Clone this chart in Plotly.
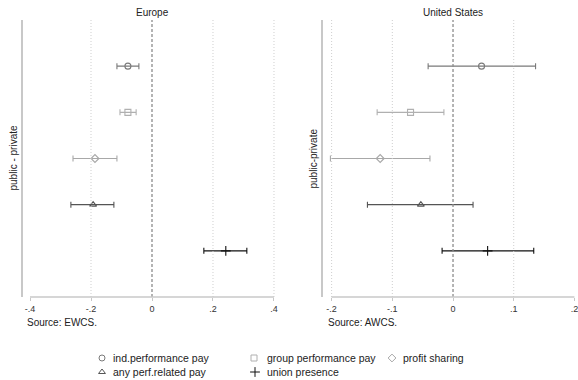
import plotly.graph_objects as go

W, H = 578, 380

# Coefficient plots: public minus private sector differences
measures = ["ind.performance pay", "group performance pay", "profit sharing",
            "any perf.related pay", "union presence"]
positions = [1, 2, 3, 4, 5]

eu_est = [-0.079, -0.079, -0.187, -0.193, 0.242]
eu_lo = [-0.115, -0.105, -0.259, -0.266, 0.170]
eu_hi = [-0.043, -0.052, -0.115, -0.125, 0.311]

us_est = [0.047, -0.070, -0.120, -0.053, 0.057]
us_lo = [-0.041, -0.125, -0.202, -0.141, -0.018]
us_hi = [0.136, -0.015, -0.038, 0.033, 0.133]

eu_ticks = [-0.4, -0.2, 0, 0.2, 0.4]
eu_ticktext = ["-.4", "-.2", "0", ".2", ".4"]
us_ticks = [-0.2, -0.1, 0, 0.1, 0.2]
us_ticktext = ["-.2", "-.1", "0", ".1", ".2"]

symbols = ["circle-open", "square-open", "diamond-open", "triangle-up-open", "cross-thin"]
colors = ["#7a7a7a", "#b0b0b0", "#a8a8a8", "#555555", "#111111"]

FONT = "Liberation Sans, Arial, Helvetica, sans-serif"


def px_x(p):
    return p / W


def px_y(p):
    return 1 - p / H


fig = go.Figure()


def add_panel(est, lo, hi, xa, ya):
    for i in range(len(measures)):
        fig.add_trace(go.Scatter(
            x=[est[i]], y=[positions[i]], mode="markers",
            xaxis=xa, yaxis=ya, showlegend=False, hoverinfo="skip",
            marker=dict(symbol=symbols[i], size=6 if i != 4 else 7, color=colors[i],
                        line=dict(width=1.1, color=colors[i])),
            error_x=dict(type="data", symmetric=False,
                         array=[hi[i] - est[i]], arrayminus=[est[i] - lo[i]],
                         color=colors[i], thickness=1.1, width=3),
        ))


add_panel(eu_est, eu_lo, eu_hi, "x", "y")
add_panel(us_est, us_lo, us_hi, "x2", "y2")

ydom = [px_y(297), px_y(20)]
axis_common = dict(showgrid=False, zeroline=False, ticks="outside", ticklen=3,
                   tickcolor="#c8c8c8", tickwidth=1.2,
                   tickfont=dict(size=9, color="#333333", family=FONT),
                   showline=False, fixedrange=True, ticklabeloverflow="allow")
yaxis_common = dict(range=[6, 0], domain=ydom, showgrid=False, zeroline=False,
                    showticklabels=False, ticks="", showline=True,
                    linecolor="#c8c8c8", linewidth=1.5, fixedrange=True)

fig.update_layout(
    width=W, height=H,
    margin=dict(l=0, r=0, t=0, b=0),
    paper_bgcolor="white", plot_bgcolor="white",
    showlegend=False,
    font=dict(family=FONT, color="#222222"),
    xaxis=dict(domain=[px_x(23), px_x(281)], range=[-0.423, 0.423],
               tickvals=eu_ticks, ticktext=eu_ticktext, anchor="y", **axis_common),
    yaxis=dict(anchor="x", **yaxis_common),
    xaxis2=dict(domain=[px_x(323), 1], range=[-0.2142, 0.2059],
                tickvals=us_ticks, ticktext=us_ticktext, anchor="y2", **axis_common),
    yaxis2=dict(anchor="x2", **yaxis_common),
    xaxis3=dict(domain=[0, 1], range=[0, W], visible=False, fixedrange=True, anchor="y3"),
    yaxis3=dict(domain=[0, px_y(304)], range=[H, 304], visible=False, fixedrange=True, anchor="x3"),
)

shapes = []
# grid lines, zero reference and bottom axis line for each panel
for xr, grid, ticks in [("x", [-0.2, 0.2, 0.4], eu_ticks), ("x2", [-0.2, -0.1, 0.1], us_ticks)]:
    for g in grid:
        shapes.append(dict(type="line", xref=xr, yref="paper", x0=g, x1=g,
                           y0=ydom[0], y1=ydom[1],
                           line=dict(color="#cfcfcf", width=1, dash="1px,2px")))
    shapes.append(dict(type="line", xref=xr, yref="paper", x0=0, x1=0,
                       y0=ydom[0], y1=ydom[1],
                       line=dict(color="#8c8c8c", width=1.3, dash="3px,2px")))
    shapes.append(dict(type="line", xref=xr, yref="paper", x0=ticks[0], x1=ticks[-1],
                       y0=ydom[0], y1=ydom[0],
                       line=dict(color="#c8c8c8", width=1.5)))
fig.update_layout(shapes=shapes)


def label(text, x, y, xref="paper", yref="paper", xanchor="center", size=10, angle=0):
    return dict(text=text, xref=xref, yref=yref, x=x, y=y, xanchor=xanchor,
                yanchor="middle", textangle=angle, showarrow=False,
                font=dict(size=size, color="#222"))


ann = [
    label("Europe", 0, px_y(13), xref="x"),
    label("United States", 0, px_y(13), xref="x2"),
    label("public - private", px_x(13), px_y(158.5), angle=-90),
    label("public-private", px_x(313), px_y(158.5), angle=-90),
    label("Source: EWCS.", px_x(25), px_y(322), xanchor="left"),
    label("Source: AWCS.", px_x(326), px_y(322), xanchor="left"),
]

# legend drawn below both panels: three entries per row
leg_sym_x = [102, 254, 392, 102, 255]
leg_txt_x = [111, 265, 401, 111, 265]
leg_y = [358, 358, 358, 372, 372]
for i, name in enumerate(measures):
    fig.add_trace(go.Scatter(
        x=[leg_sym_x[i]], y=[leg_y[i]], mode="markers", xaxis="x3", yaxis="y3",
        showlegend=False, hoverinfo="skip",
        marker=dict(symbol=symbols[i], size=6 if i != 4 else 7, color=colors[i],
                    line=dict(width=1.0, color=colors[i])),
    ))
    ann.append(label(name, leg_txt_x[i], leg_y[i], xref="x3", yref="y3",
                     xanchor="left", size=10.5))

fig.update_layout(annotations=ann)

fig.write_html("out.html")
